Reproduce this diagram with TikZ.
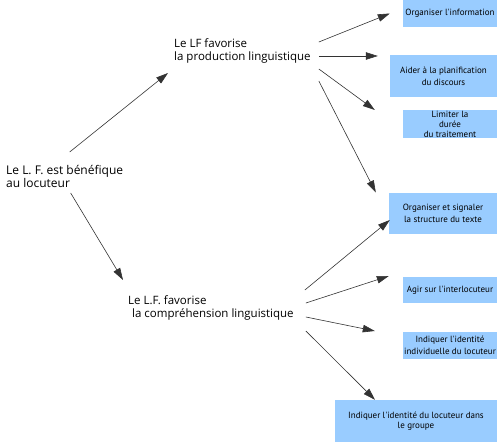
\documentclass[tikz,border=0pt]{standalone}
\usepackage{fontspec}
\setmainfont{Open Sans}
\newfontfamily\boxfont{PT Sans}
\usetikzlibrary{arrows.meta}
\definecolor{boxblue}{RGB}{153,204,255}

\begin{document}
\begin{tikzpicture}[x=1bp, y=-1bp, >={Triangle[length=12bp, width=7.5bp]},
		lf/.style={anchor=west, align=left, inner sep=0pt, font=\fontsize{11.5bp}{12.5bp}\selectfont},
		aim/.style={fill=boxblue, inner sep=0pt, align=center, font=\boxfont\fontsize{9bp}{12bp}\selectfont},
		arr/.style={->, draw=black!80, line width=0.6bp}]
		
		\useasboundingbox (0,0) rectangle (500,442);
		
		% 1. les trois textes principaux
		\node[lf, font=\fontsize{12bp}{13bp}\selectfont] (benef) at (6,176.5) {Le L. F. est bénéfique\\au locuteur};
		\node[lf] (prod) at (174,51) {Le LF favorise\\la production linguistique};
		\node[lf] (comp) at (128,308) {Le L.F. favorise\\\hspace{4bp}la compréhension linguistique};
		
		% 2. les cases bleues
		\node[aim, minimum width=94bp, minimum height=27bp] (info) at (450,13.5) {Organiser l'information};
		\node[aim, minimum width=107bp, minimum height=42bp] (plan) at (443.5,76) {Aider à la planification\\du discours};
		\node[aim, minimum width=94bp, minimum height=28bp, font=\boxfont\fontsize{9bp}{10bp}\selectfont] (duree) at (450,124) {Limiter la\\durée\\du traitement};
		\node[aim, minimum width=108bp, minimum height=41bp] (struct) at (443,213.5) {Organiser et signaler\\la structure du texte};
		\node[aim, minimum width=94bp, minimum height=26bp] (inter) at (450,290) {Agir sur l'interlocuteur};
		\node[aim, minimum width=94bp, minimum height=27bp] (indiv) at (450,345.5) {Indiquer l'identité\\individuelle du locuteur};
		\node[aim, minimum width=162bp, minimum height=42bp, font=\boxfont\fontsize{9bp}{10.5bp}\selectfont] (groupe) at (416,421) {Indiquer l'identité du locuteur dans\\le groupe};
		
		% 3. flèches depuis le texte de gauche
		\draw[arr] ([shift={(5,-24.5)}]benef.center) -- ([shift={(-6,22)}]prod.west);
		\draw[arr] ([shift={(6,16.5)}]benef.center) -- ([shift={(-5,-28)}]comp.west);
		
		% 4. production linguistique
		\draw[arr] ([shift={(8,-9)}]prod.east) -- ([shift={(-13,0)}]info.west);
		\draw[arr] ([shift={(8,5)}]prod.east) -- ([shift={(-12,-20)}]plan.west);
		\draw[arr] ([shift={(8,18)}]prod.east) -- ([shift={(-28,-14)}]duree.west);
		\draw[arr] ([shift={(8,30)}]prod.east) -- ([shift={(-13,-21)}]struct.west);
		
		% 5. compréhension linguistique
		\draw[arr] ([shift={(11,-18)}]comp.east) -- ([shift={(1,6.5)}]struct.west);
		\draw[arr] ([shift={(12,-5)}]comp.east) -- ([shift={(-14,-14)}]inter.west);
		\draw[arr] ([shift={(12,9)}]comp.east) -- ([shift={(-28,-14.5)}]indiv.west);
		\draw[arr] ([shift={(12,23)}]comp.east) -- ([shift={(-41,0)}]groupe.north);
		
	\end{tikzpicture}
\end{document}
